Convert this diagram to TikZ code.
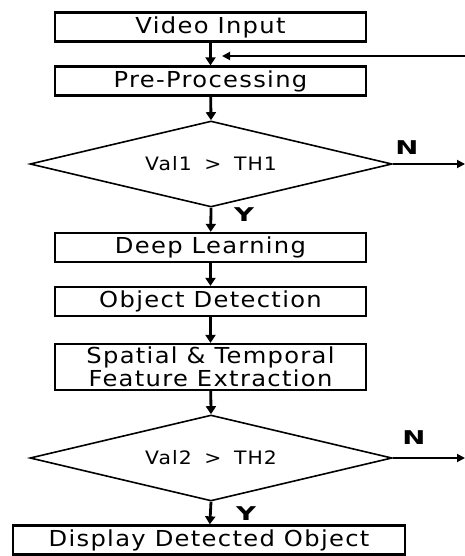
\documentclass[tikz,border=0pt]{standalone}
\usepackage{fontspec}
\setmainfont{DejaVu Sans}[FakeStretch=1.1,LetterSpace=6]
\newfontfamily\labfont{DejaVu Sans Bold}[FakeStretch=1.45]
\usetikzlibrary{arrows.meta,shapes.geometric}
\begin{document}
\begin{tikzpicture}[x=1pt,y=-1pt,
  box/.style={draw, line width=2.3pt, minimum height=29pt, inner sep=0pt, font=\fontsize{22}{23}\selectfont, align=center},
  dec/.style={draw, diamond, aspect=4.2, line width=1.6pt, minimum width=362pt, minimum height=86pt, inner sep=0pt, font=\fontsize{18.5}{20}\selectfont},
  flow/.style={line width=2.8pt, -{Triangle[length=8pt,width=10pt]}},
  side/.style={line width=1.8pt, -{Triangle[length=8pt,width=8pt]}},
  lab/.style={font=\labfont\fontsize{19}{20}\selectfont, inner sep=0pt}]
\useasboundingbox (0,0) rectangle (465,556);
\node[box, minimum width=311pt] (vi) at (210.5,27) {Video Input};
\node[box, minimum width=311pt] (pp) at (210.5,81) {Pre-Processing};
\node[dec] (d1) at (211,164) {Val1\hspace{5pt} > \hspace{5pt}TH1};
\node[box, minimum width=311pt] (dl) at (210.5,247.5) {Deep Learning};
\node[box, minimum width=311pt] (od) at (210.5,301.5) {Object Detection};
\node[box, minimum width=311pt, minimum height=46pt] (sf) at (210.5,367) {Spatial \& Temporal\\Feature Extraction};
\node[dec] (d2) at (211,458) {Val2\hspace{5pt} > \hspace{5pt}TH2};
\node[box, minimum width=392pt] (dd) at (209,540) {Display Detected Object};
\coordinate (fbin) at (465,56);
\coordinate (fbend) at (222,56);
\coordinate (n1) at (465,164);
\coordinate (n2) at (465,458);
\draw[flow] (vi) -- (pp);
\draw[flow] (pp) -- (d1.north);
\draw[flow] (d1.south) -- (dl);
\draw[flow] (dl) -- (od);
\draw[flow] (od) -- (sf);
\draw[flow] (sf) -- (d2.north);
\draw[flow] (d2.south) -- (dd);
\draw[side] (fbin) -- (fbend);
\draw[side] (d1.east) -- (n1);
\draw[side] (d2.east) -- (n2);
\node[lab] (ln1) at (407,148) {N};
\node[lab] (ly1) at (244,215) {Y};
\node[lab] (ln2) at (414,438) {N};
\node[lab] (ly2) at (246,514) {Y};
\end{tikzpicture}
\end{document}
